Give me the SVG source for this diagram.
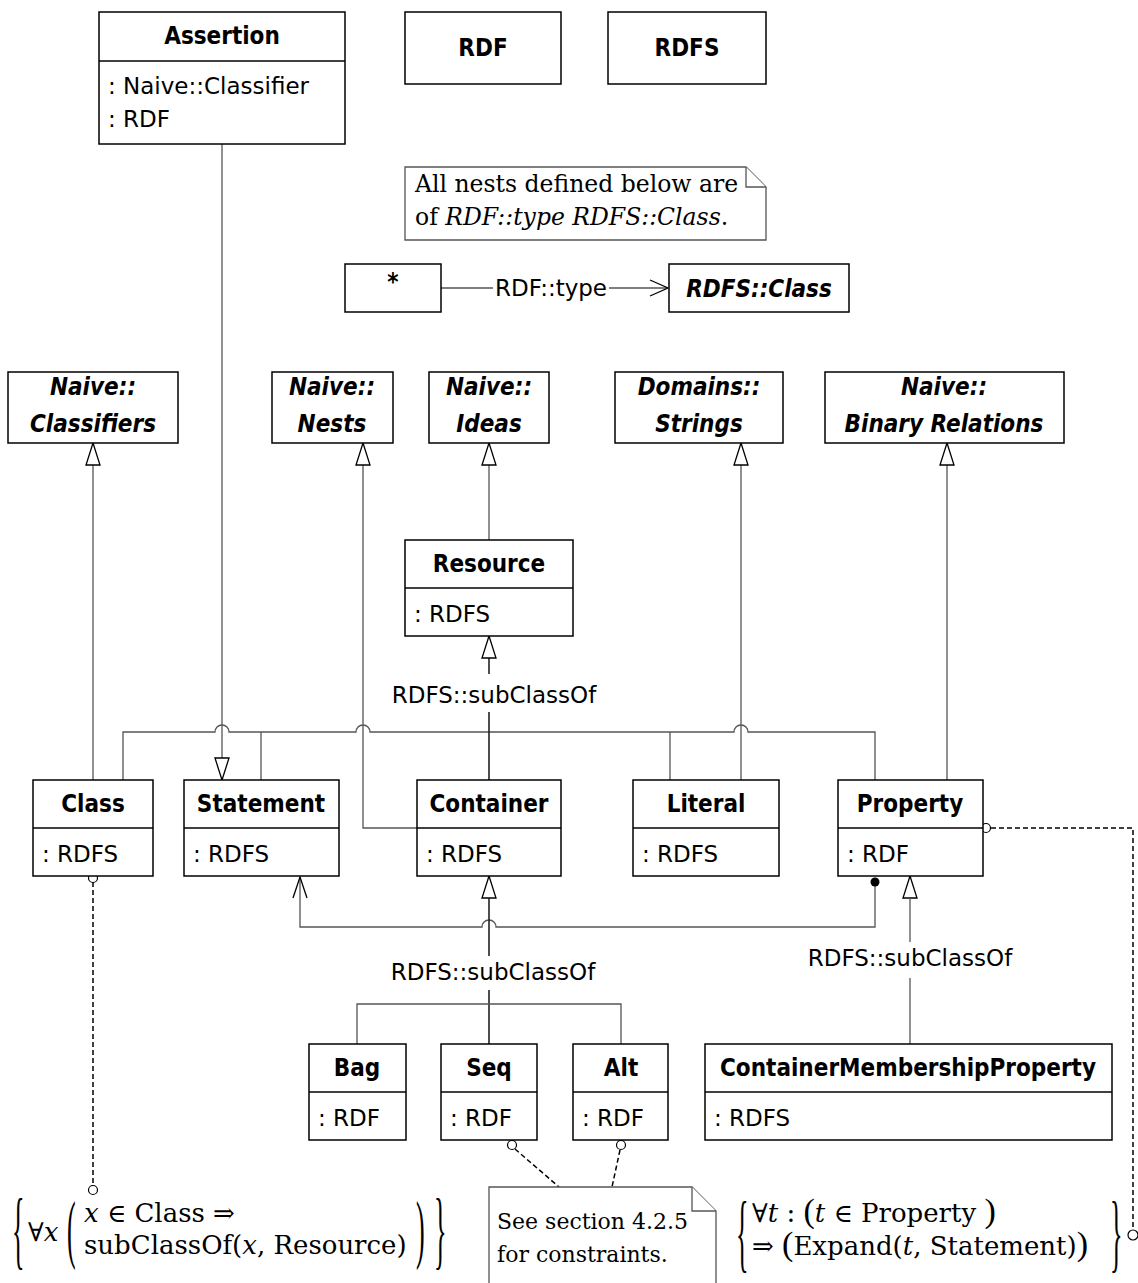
<svg xmlns="http://www.w3.org/2000/svg" width="1138" height="1283" viewBox="0 0 1138 1283">
<style>
.box{fill:#fff;stroke:#000;stroke-width:1.5}
.t{font-family:"DejaVu Sans Condensed","DejaVu Sans",sans-serif;font-weight:bold;font-size:24px;text-anchor:middle;fill:#000}
.ti{font-family:"DejaVu Sans Condensed","DejaVu Sans",sans-serif;font-weight:bold;font-style:italic;font-size:24px;text-anchor:middle;fill:#000}
.a{font-family:"DejaVu Sans",sans-serif;font-size:23px;fill:#000}
.lbl{font-family:"DejaVu Sans",sans-serif;font-size:23px;fill:#000;text-anchor:middle}
.c{fill:none;stroke:#555;stroke-width:1.3}
.k{fill:none;stroke:#222;stroke-width:1.6}
.gen{fill:#fff;stroke:#000;stroke-width:1.3}
.open{fill:none;stroke:#000;stroke-width:1.3}
.d{fill:none;stroke:#000;stroke-width:1.5;stroke-dasharray:5 3}
.ball{fill:#fff;stroke:#000;stroke-width:1.2}
.note{fill:#fff;stroke:#555;stroke-width:1.3}
.nt{font-family:"DejaVu Serif",serif;font-size:23.5px;fill:#000}
.nt2{font-family:"DejaVu Serif",serif;font-size:22px;fill:#000}
.m{font-family:"DejaVu Serif",serif;font-size:26px;fill:#000}
.big{font-family:"Liberation Serif",serif;font-size:26px;fill:#000}
.it{font-style:italic}
.bp{font-family:"Liberation Serif",serif;font-size:34px}
</style>

<g id="connectors">
  <!-- Assertion to Statement -->
  <path class="c" d="M222,144 V758"/>
  <polygon class="gen" points="222,780 215,758 229,758"/>
  <!-- Class to Naive::Classifiers -->
  <path class="c" d="M93,780 V465"/>
  <polygon class="gen" points="93,443 86,465 100,465"/>
  <!-- Container to Naive::Nests -->
  <path class="c" d="M417,828 H363 V465"/>
  <polygon class="gen" points="363,443 356,465 370,465"/>
  <!-- Resource to Naive::Ideas -->
  <path class="c" d="M489,540 V465"/>
  <polygon class="gen" points="489,443 482,465 496,465"/>
  <!-- Literal to Domains::Strings -->
  <path class="c" d="M741,780 V465"/>
  <polygon class="gen" points="741,443 734,465 748,465"/>
  <!-- Property to Naive::Binary Relations -->
  <path class="c" d="M947,780 V465"/>
  <polygon class="gen" points="947,443 940,465 954,465"/>

  <!-- subClassOf Resource bus -->
  <path class="c" d="M123,780 V732 H215 A7,7 0 0 1 229,732 H356 A7,7 0 0 1 370,732 H734 A7,7 0 0 1 748,732 H875 V780"/>
  <path class="c" d="M261,732 V780"/>
  <path class="c" d="M670,732 V780"/>
  <path class="k" d="M489,780 V712"/>
  <path class="k" d="M489,674 V658"/>
  <polygon class="gen" points="489,636 482,658 496,658"/>
  <text class="lbl" x="494" y="703">RDFS::subClassOf</text>

  <!-- Property to Statement association -->
  <path class="c" d="M875,886 V927 H496 A7,7 0 0 0 482,927 H300 V877"/>
  <path class="open" d="M293,898 L300,877 L307,898"/>
  <circle cx="875" cy="882" r="4.5" fill="#000"/>

  <!-- subClassOf Container bus -->
  <polygon class="gen" points="489,876 482,898 496,898"/>
  <path class="k" d="M489,898 V956"/>
  <text class="lbl" x="493" y="980">RDFS::subClassOf</text>
  <path class="k" d="M489,990 V1044"/>
  <path class="c" d="M357,1044 V1004 H621 V1044"/>

  <!-- ContainerMembershipProperty to Property -->
  <polygon class="gen" points="910,876 903,898 917,898"/>
  <path class="c" d="M910,898 V942"/>
  <text class="lbl" x="910" y="966">RDFS::subClassOf</text>
  <path class="c" d="M910,978 V1044"/>

  <!-- * RDF::type RDFS::Class -->
  <path class="c" d="M441,288 H493"/>
  <text class="a" x="495" y="296">RDF::type</text>
  <path class="c" d="M609,288 H667"/>
  <path class="open" d="M650,280 L668,288 L650,296"/>

  <!-- constraint links -->
  <path class="d" d="M93,882 V1185"/>
  <circle class="ball" cx="93" cy="878" r="4.5"/>
  <circle class="ball" cx="93" cy="1190" r="4.5"/>
  <path class="d" d="M991,828 H1133 V1230"/>
  <circle class="ball" cx="986" cy="828" r="4.5"/>
  <circle class="ball" cx="1133" cy="1235" r="5"/>
  <path class="d" d="M515,1149 L559,1187"/>
  <circle class="ball" cx="512" cy="1145" r="4.5"/>
  <path class="d" d="M620,1150 L612,1187"/>
  <circle class="ball" cx="621" cy="1145" r="4.5"/>
</g>

<g id="Assertion">
  <rect class="box" x="99" y="12" width="246" height="132"/>
  <line class="box" x1="99" y1="61" x2="345" y2="61"/>
  <text class="t" x="222" y="44">Assertion</text>
  <text class="a" x="108" y="94">: Naive::Classifier</text>
  <text class="a" x="108" y="127">: RDF</text>
</g>
<g id="RDF">
  <rect class="box" x="405" y="12" width="156" height="72"/>
  <text class="t" x="483" y="56">RDF</text>
</g>
<g id="RDFS">
  <rect class="box" x="608" y="12" width="158" height="72"/>
  <text class="t" x="687" y="56">RDFS</text>
</g>

<g id="note-nests">
  <path class="note" d="M405,167 H746 L766,187 V240 H405 Z"/>
  <path class="note" d="M746,167 V187 H766"/>
  <text class="nt" x="415" y="192">All nests defined below are</text>
  <text class="nt" x="415" y="225">of <tspan class="it">RDF::type RDFS::Class</tspan>.</text>
</g>

<g id="Any">
  <rect class="box" x="345" y="264" width="96" height="48"/>
  <text class="t" x="393" y="290">*</text>
</g>
<g id="RDFSClass">
  <rect class="box" x="669" y="264" width="180" height="48"/>
  <text class="ti" x="759" y="297">RDFS::Class</text>
</g>

<g id="NaiveClassifiers">
  <rect class="box" x="8" y="372" width="170" height="71"/>
  <text class="ti" x="93" y="395">Naive::</text>
  <text class="ti" x="93" y="432">Classifiers</text>
</g>
<g id="NaiveNests">
  <rect class="box" x="272" y="372" width="121" height="71"/>
  <text class="ti" x="332" y="395">Naive::</text>
  <text class="ti" x="332" y="432">Nests</text>
</g>
<g id="NaiveIdeas">
  <rect class="box" x="429" y="372" width="120" height="71"/>
  <text class="ti" x="489" y="395">Naive::</text>
  <text class="ti" x="489" y="432">Ideas</text>
</g>
<g id="DomainsStrings">
  <rect class="box" x="615" y="372" width="168" height="71"/>
  <text class="ti" x="699" y="395">Domains::</text>
  <text class="ti" x="699" y="432">Strings</text>
</g>
<g id="NaiveBinaryRelations">
  <rect class="box" x="825" y="372" width="239" height="71"/>
  <text class="ti" x="944" y="395">Naive::</text>
  <text class="ti" x="944" y="432">Binary Relations</text>
</g>

<g id="Resource">
  <rect class="box" x="405" y="540" width="168" height="96"/>
  <line class="box" x1="405" y1="588" x2="573" y2="588"/>
  <text class="t" x="489" y="572">Resource</text>
  <text class="a" x="414" y="622">: RDFS</text>
</g>

<g id="Class">
  <rect class="box" x="33" y="780" width="120" height="96"/>
  <line class="box" x1="33" y1="828" x2="153" y2="828"/>
  <text class="t" x="93" y="812">Class</text>
  <text class="a" x="42" y="862">: RDFS</text>
</g>
<g id="Statement">
  <rect class="box" x="184" y="780" width="155" height="96"/>
  <line class="box" x1="184" y1="828" x2="339" y2="828"/>
  <text class="t" x="261" y="812">Statement</text>
  <text class="a" x="193" y="862">: RDFS</text>
</g>
<g id="Container">
  <rect class="box" x="417" y="780" width="144" height="96"/>
  <line class="box" x1="417" y1="828" x2="561" y2="828"/>
  <text class="t" x="489" y="812">Container</text>
  <text class="a" x="426" y="862">: RDFS</text>
</g>
<g id="Literal">
  <rect class="box" x="633" y="780" width="146" height="96"/>
  <line class="box" x1="633" y1="828" x2="779" y2="828"/>
  <text class="t" x="706" y="812">Literal</text>
  <text class="a" x="642" y="862">: RDFS</text>
</g>
<g id="Property">
  <rect class="box" x="838" y="780" width="145" height="96"/>
  <line class="box" x1="838" y1="828" x2="983" y2="828"/>
  <text class="t" x="910" y="812">Property</text>
  <text class="a" x="847" y="862">: RDF</text>
</g>

<g id="Bag">
  <rect class="box" x="309" y="1044" width="97" height="96"/>
  <line class="box" x1="309" y1="1092" x2="406" y2="1092"/>
  <text class="t" x="357" y="1076">Bag</text>
  <text class="a" x="318" y="1126">: RDF</text>
</g>
<g id="Seq">
  <rect class="box" x="441" y="1044" width="96" height="96"/>
  <line class="box" x1="441" y1="1092" x2="537" y2="1092"/>
  <text class="t" x="489" y="1076">Seq</text>
  <text class="a" x="450" y="1126">: RDF</text>
</g>
<g id="Alt">
  <rect class="box" x="573" y="1044" width="95" height="96"/>
  <line class="box" x1="573" y1="1092" x2="668" y2="1092"/>
  <text class="t" x="621" y="1076">Alt</text>
  <text class="a" x="582" y="1126">: RDF</text>
</g>
<g id="ContainerMembershipProperty">
  <rect class="box" x="705" y="1044" width="407" height="96"/>
  <line class="box" x1="705" y1="1092" x2="1112" y2="1092"/>
  <text class="t" x="908" y="1076">ContainerMembershipProperty</text>
  <text class="a" x="714" y="1126">: RDFS</text>
</g>

<g id="note-constraints">
  <path class="note" d="M489,1187 H692 L716,1211 V1290 H489 Z"/>
  <path class="note" d="M692,1187 V1211 H716"/>
  <text class="nt2" x="497" y="1229">See section 4.2.5</text>
  <text class="nt2" x="497" y="1262">for constraints.</text>
</g>

<g id="constraint-class">
  <text class="big" transform="translate(12,1258) scale(1,3.3)">{</text>
  <text class="m" x="28" y="1241">∀<tspan class="it">x</tspan></text>
  <text class="big" transform="translate(67,1254) scale(1,2.9)">(</text>
  <text class="m" x="84" y="1222"><tspan class="it">x</tspan> ∈ Class ⇒</text>
  <text class="m" x="84" y="1254">subClassOf(<tspan class="it">x</tspan>, Resource)</text>
  <text class="big" transform="translate(416,1254) scale(1,2.9)">)</text>
  <text class="big" transform="translate(434,1258) scale(1,3.3)">}</text>
</g>

<g id="constraint-property">
  <text class="big" transform="translate(736,1261) scale(1,3.3)">{</text>
  <text class="m" x="752" y="1222">∀<tspan class="it">t</tspan> : <tspan class="bp">(</tspan><tspan class="it">t</tspan> ∈ Property <tspan class="bp">)</tspan></text>
  <text class="m" x="752" y="1255">⇒ <tspan class="bp">(</tspan>Expand(<tspan class="it">t</tspan>, Statement)<tspan class="bp">)</tspan></text>
  <text class="big" transform="translate(1110,1261) scale(1,3.3)">}</text>
</g>
</svg>
